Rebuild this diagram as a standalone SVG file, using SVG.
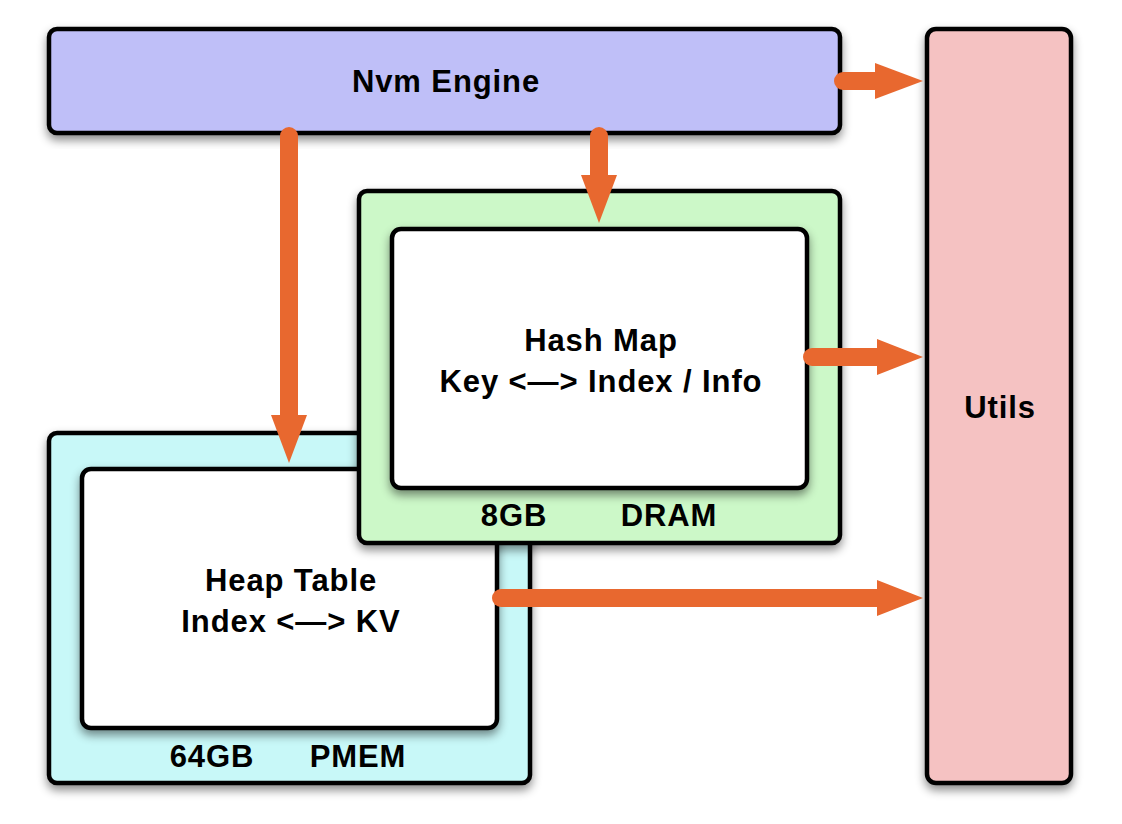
<svg xmlns="http://www.w3.org/2000/svg" width="1122" height="824" viewBox="0 0 1122 824">
<defs>
<filter id="sh" x="-10%" y="-10%" width="120%" height="125%">
<feDropShadow dx="0" dy="5" stdDeviation="5" flood-color="#000" flood-opacity="0.45"/>
</filter>
<style>
.box{stroke:#000;stroke-width:4.5;filter:url(#sh)}
.t{font-family:"Liberation Sans",Arial,sans-serif;font-weight:bold;font-size:31px;letter-spacing:0.9px;fill:#000;text-anchor:middle}
.sh{stroke:#e8682f;stroke-width:18;stroke-linecap:round;fill:none}
.hd{fill:#e8682f}
</style>
</defs>
<rect width="1122" height="824" fill="#fff"/>
<g id="utils">
<rect class="box" x="927" y="29" width="144" height="754" rx="9" fill="#f5c2c2"/>
<text class="t" x="1000" y="418">Utils</text>
</g>
<g id="nvm-engine">
<rect class="box" x="49" y="29" width="791" height="104" rx="8" fill="#bfbff8"/>
<text class="t" x="446" y="92">Nvm Engine</text>
</g>
<g id="pmem">
<rect class="box" x="49" y="433" width="481" height="350" rx="8" fill="#c8f8f8"/>
<text class="t" x="212" y="767">64GB</text>
<text class="t" x="358" y="767">PMEM</text>
</g>
<g id="heap-table">
<rect class="box" x="82" y="469" width="415" height="259" rx="9" fill="#fff"/>
<text class="t" x="291" y="591">Heap Table</text>
<text class="t" x="291" y="632">Index &lt;—&gt; KV</text>
</g>
<g id="dram">
<rect class="box" x="359" y="191" width="481" height="352" rx="8" fill="#ccf8c8"/>
<text class="t" x="514" y="526">8GB</text>
<text class="t" x="669" y="526">DRAM</text>
</g>
<g id="hash-map">
<rect class="box" x="392" y="229" width="415" height="259" rx="9" fill="#fff"/>
<text class="t" x="601" y="351">Hash Map</text>
<text class="t" x="601" y="392">Key &lt;—&gt; Index / Info</text>
</g>
<g id="connectors">
<line class="sh" x1="843" y1="81" x2="878" y2="81"/>
<polygon class="hd" points="875,63 923,81 875,99"/>
<line class="sh" x1="599" y1="136" x2="599" y2="178"/>
<polygon class="hd" points="581,175 617,175 599,223"/>
<line class="sh" x1="289" y1="136" x2="289" y2="418"/>
<polygon class="hd" points="271,415 307,415 289,463"/>
<line class="sh" x1="812" y1="357" x2="880" y2="357"/>
<polygon class="hd" points="877,339 923,357 877,375"/>
<line class="sh" x1="501" y1="598" x2="880" y2="598"/>
<polygon class="hd" points="877,580 923,598 877,616"/>
</g>
</svg>
